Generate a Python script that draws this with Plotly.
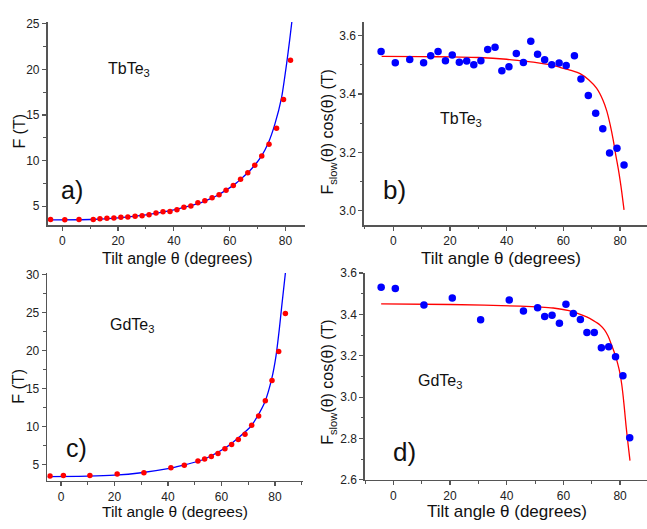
import plotly.graph_objects as go

# ---------------- data ----------------
# a) TbTe3  F(theta)
a_theta = [-4.2, 0.9, 6.0, 11.1, 13.5, 16.0, 18.5, 21.0, 23.5, 26.1, 28.6, 31.1, 33.6, 36.1, 38.6,
           41.1, 43.6, 46.1, 48.6, 51.1, 53.7, 56.2, 58.7, 61.3, 63.9, 66.5, 69.0, 71.5, 74.1, 76.8,
           79.3, 81.8]
a_F = [3.55, 3.51, 3.55, 3.55, 3.62, 3.69, 3.72, 3.80, 3.83, 3.90, 3.97, 4.08, 4.26, 4.40, 4.43,
       4.61, 4.89, 5.04, 5.39, 5.61, 5.92, 6.27, 6.75, 7.28, 7.95, 8.67, 9.48, 10.5, 11.8, 13.55,
       16.7, 21.0]
a_fit_theta = [-5, 10, 20, 30, 40, 45, 50, 52.1, 55, 59.4, 62, 64.1, 67.7, 71.4, 73.8, 76.2, 78.6,
               80.4, 81.5, 82.6]
a_fit = [3.50, 3.55, 3.72, 4.05, 4.60, 4.98, 5.42, 5.70, 6.10, 6.90, 7.45, 8.00, 9.05, 10.5, 11.9,
         14.0, 16.9, 20.6, 23.2, 26.0]

# b) TbTe3  F_slow cos(theta)
b_theta = [-4.3, 0.7, 5.8, 10.7, 13.2, 15.8, 18.4, 20.8, 23.3, 25.9, 28.4, 30.9, 33.3, 35.9, 38.3,
           40.8, 43.4, 45.9, 48.5, 50.9, 53.4, 55.9, 58.5, 61.0, 63.9, 66.2, 68.8, 71.4, 73.9, 76.3,
           78.9, 81.4]
b_F = [3.546, 3.507, 3.518, 3.507, 3.531, 3.546, 3.514, 3.534, 3.509, 3.513, 3.500, 3.514, 3.552,
       3.560, 3.480, 3.493, 3.539, 3.508, 3.581, 3.536, 3.517, 3.500, 3.506, 3.498, 3.531, 3.451,
       3.395, 3.334, 3.281, 3.198, 3.214, 3.157]
b_fit_theta = [-4.1, 10, 20, 30, 40, 44.7, 50, 56.4, 60, 63, 65.9, 69, 71.7, 74, 75.3, 76.5, 77.6,
               78.5, 79.4, 80.0, 80.6, 81.4]
b_fit = [3.529, 3.528, 3.527, 3.525, 3.519, 3.514, 3.508, 3.498, 3.488, 3.480, 3.470, 3.448, 3.420,
         3.378, 3.342, 3.295, 3.242, 3.190, 3.142, 3.105, 3.064, 3.003]

# c) GdTe3  F(theta)
c_theta = [-4.1, 0.9, 10.8, 21.0, 31.0, 41.1, 46.1, 51.2, 53.7, 56.2, 58.7, 61.3, 63.8, 66.3, 68.8,
           71.3, 73.9, 76.4, 78.9, 81.4, 83.9]
c_F = [3.51, 3.55, 3.55, 3.76, 3.93, 4.57, 4.91, 5.47, 5.73, 6.06, 6.45, 7.09, 7.65, 8.29, 9.00,
       10.16, 11.4, 13.4, 16.05, 19.85, 24.85]
c_fit_theta = [-5, 10, 20, 30, 40, 45, 52, 55.7, 61.9, 66.9, 70.7, 73.2, 76.3, 78.8, 80.4, 81.6,
               82.5, 84.0]
c_fit = [3.42, 3.47, 3.60, 3.92, 4.45, 4.85, 5.50, 6.06, 7.30, 8.70, 9.90, 11.2, 13.3, 16.3, 19.3,
         22.7, 25.7, 30.5]

# d) GdTe3  F_slow cos(theta)
d_theta = [-4.3, 0.7, 10.8, 20.8, 30.8, 40.9, 45.9, 50.9, 53.4, 56.0, 58.6, 60.9, 63.5, 66.0, 68.3,
           70.9, 73.4, 76.0, 78.4, 81.0, 83.4]
d_F = [3.531, 3.525, 3.445, 3.479, 3.374, 3.470, 3.416, 3.432, 3.390, 3.396, 3.357, 3.449, 3.404,
       3.375, 3.313, 3.313, 3.239, 3.244, 3.195, 3.104, 2.804]
d_fit_theta = [-4.3, 20, 44.7, 56.4, 62, 65, 68.2, 70.6, 72.9, 74.5, 75.8, 77.0, 78.2, 79.2, 80.0,
               80.6, 81.1, 81.6, 82.1, 82.8, 83.5]
d_fit = [3.451, 3.448, 3.440, 3.431, 3.418, 3.405, 3.388, 3.370, 3.349, 3.325, 3.294, 3.252, 3.207,
         3.160, 3.113, 3.060, 3.003, 2.935, 2.862, 2.775, 2.693]

x_ticks = [0, 20, 40, 60, 80]

# ---------------- figure ----------------
W, H = 647, 529
FONT = "Liberation Sans, Arial, sans-serif"
AX = "#555555"

def px(x):
    return x / W

def py(y):
    return 1 - y / H

fig = go.Figure()

RED = "#ff0000"
BLUE = "#0000ff"

fig.add_trace(go.Scatter(x=a_fit_theta, y=a_fit, mode="lines", line=dict(color=BLUE, width=1.3, shape="spline", smoothing=0.6),
                         xaxis="x", yaxis="y", showlegend=False))
fig.add_trace(go.Scatter(x=a_theta, y=a_F, mode="markers", marker=dict(color=RED, size=5.5),
                         xaxis="x", yaxis="y", showlegend=False))

fig.add_trace(go.Scatter(x=b_fit_theta, y=b_fit, mode="lines", line=dict(color=RED, width=1.3, shape="spline", smoothing=0.6),
                         xaxis="x2", yaxis="y2", showlegend=False))
fig.add_trace(go.Scatter(x=b_theta, y=b_F, mode="markers", marker=dict(color=BLUE, size=7.5),
                         xaxis="x2", yaxis="y2", showlegend=False))

fig.add_trace(go.Scatter(x=c_fit_theta, y=c_fit, mode="lines", line=dict(color=BLUE, width=1.3, shape="spline", smoothing=0.6),
                         xaxis="x3", yaxis="y3", showlegend=False))
fig.add_trace(go.Scatter(x=c_theta, y=c_F, mode="markers", marker=dict(color=RED, size=5.5),
                         xaxis="x3", yaxis="y3", showlegend=False))

fig.add_trace(go.Scatter(x=d_fit_theta, y=d_fit, mode="lines", line=dict(color=RED, width=1.3, shape="spline", smoothing=0.6),
                         xaxis="x4", yaxis="y4", showlegend=False))
fig.add_trace(go.Scatter(x=d_theta, y=d_F, mode="markers", marker=dict(color=BLUE, size=7.5),
                         xaxis="x4", yaxis="y4", showlegend=False))

def xax(domain, rng, anchor):
    return dict(domain=domain, range=rng, anchor=anchor, tickvals=x_ticks, ticks="outside",
                ticklen=4, tickwidth=1.2, tickcolor=AX, showline=True, linecolor=AX, linewidth=1.6,
                showgrid=False, zeroline=False, tickfont=dict(size=12, color="#222", family=FONT),
                minor=dict(dtick=10, tick0=0, ticks="outside", ticklen=2.5, tickcolor=AX, tickwidth=1),
                fixedrange=True)

def yax(domain, rng, anchor, dtick, minor, fmt=None):
    d = dict(domain=domain, range=rng, anchor=anchor, dtick=dtick, tick0=0, ticks="outside",
             ticklen=4, tickwidth=1.2, tickcolor=AX, showline=True, linecolor=AX, linewidth=1.6,
             showgrid=False, zeroline=False, tickfont=dict(size=12, color="#222", family=FONT),
             minor=dict(dtick=minor, tick0=0, ticks="outside", ticklen=2.5, tickcolor=AX, tickwidth=1),
             fixedrange=True)
    if fmt:
        d["tickformat"] = fmt
    return d

fig.update_layout(
    width=W, height=H,
    margin=dict(l=0, r=0, t=0, b=0),
    paper_bgcolor="white", plot_bgcolor="white",
    font=dict(family=FONT, color="#111"),
    hovermode=False,
    xaxis=xax([px(47.5), px(305)], [-5.3, 87.0], "y"),
    yaxis=yax([py(224), py(15.5)], [2.94, 25.17], "x", 5, 2.5),
    xaxis2=xax([px(364), px(647)], [-10.33, 89.5], "y2"),
    yaxis2=yax([py(224.3), py(15)], [2.95, 3.648], "x2", 0.2, 0.1, ".1f"),
    xaxis3=xax([px(47.3), px(303.3)], [-5.12, 90.6], "y3"),
    yaxis3=yax([py(486.7), py(273.3)], [2.86, 30.18], "x3", 5, 2.5),
    xaxis4=xax([px(365), px(647)], [-10.0, 89.5], "y4"),
    yaxis4=yax([py(485.7), py(273.3)], [2.6, 3.6], "x4", 0.2, 0.1, ".1f"),
)

def ann(x, y, text, size, angle=0, xanchor="center"):
    fig.add_annotation(x=px(x), y=py(y), xref="paper", yref="paper", text=text, showarrow=False,
                       xanchor=xanchor, yanchor="middle", textangle=angle,
                       font=dict(size=size, family=FONT, color="#111"))

# axis titles
ann(177, 258, "Tilt angle θ (degrees)", 16)
ann(501, 258, "Tilt angle θ (degrees)", 17)
ann(175, 518.5, "Tilt angle θ (degrees)", 15.5)
ann(507, 518.5, "Tilt angle θ (degrees)", 17)
ann(20, 128, "F (T)", 16, -90)
ann(19, 390, "F (T)", 16, -90)
ann(329, 128, "F<sub>slow</sub>(θ) cos(θ) (T)", 16, -90)
ann(329, 385, "F<sub>slow</sub>(θ) cos(θ) (T)", 16, -90)

# in-panel labels
ann(106, 64, "TbTe<sub>3</sub>", 16, xanchor="left")
ann(438, 116, "TbTe<sub>3</sub>", 16, xanchor="left")
ann(108, 327, "GdTe<sub>3</sub>", 16, xanchor="left")
ann(416, 385, "GdTe<sub>3</sub>", 16, xanchor="left")
ann(59, 188, "a)", 25, xanchor="left")
ann(381, 188, "b)", 26, xanchor="left")
ann(64, 453, "c)", 25, xanchor="left")
ann(391, 457, "d)", 26, xanchor="left")

fig.write_html("out.html", config={"displayModeBar": False, "staticPlot": True},
               post_script="document.body.style.margin='0';document.body.style.overflow='hidden';")
